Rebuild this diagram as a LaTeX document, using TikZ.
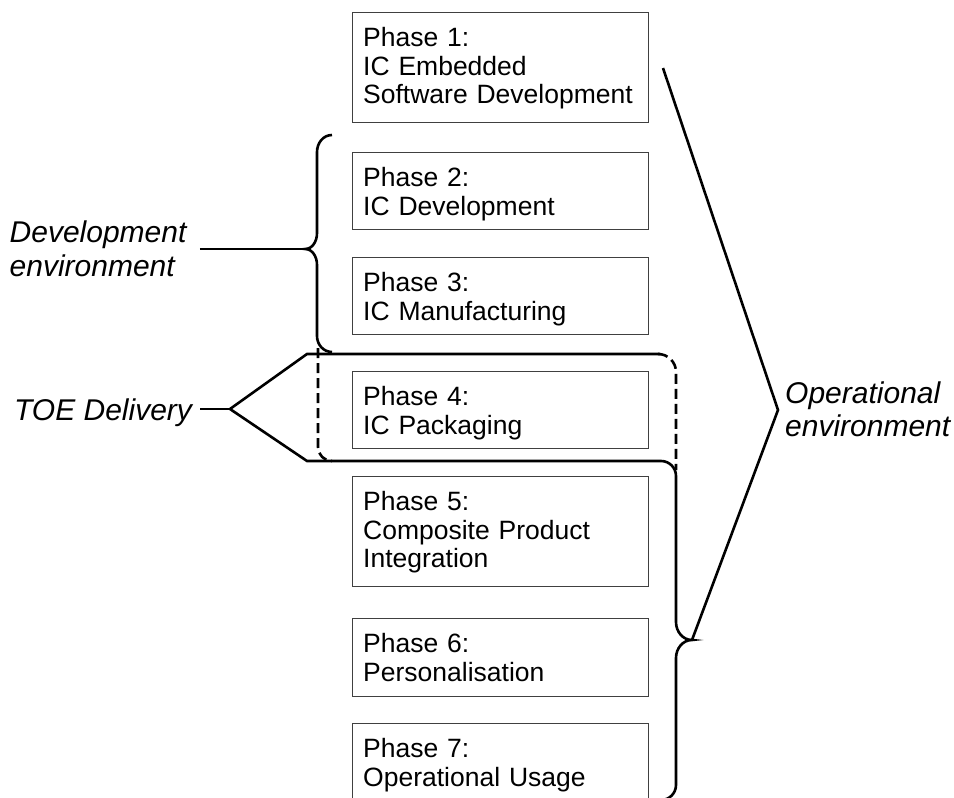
\documentclass[tikz,border=0pt]{standalone}
\usepackage{fontspec}
\setmainfont{Liberation Sans}
\usetikzlibrary{arrows}
\definecolor{boxgray}{RGB}{64,64,64}
\tikzstyle{phasebox} = [draw=boxgray, line width=1.1pt, anchor=north west, minimum width=296pt, inner sep=0pt]
\tikzstyle{phtext} = [anchor=base west, inner sep=0pt, text width=280pt, align=left, font=\fontsize{26.5}{28.5}\selectfont]
\tikzstyle{envlabel} = [anchor=base west, inner xsep=6pt, inner ysep=0pt, align=left, font=\fontsize{30}{33.5}\selectfont\itshape]
\tikzstyle{brace} = [line width=2.6pt, black]
\tikzstyle{dashline} = [line width=2.6pt, black, dash pattern=on 10pt off 5pt]

\begin{document}
\begin{tikzpicture}[x=1pt, y=-1pt]
\useasboundingbox (0,0) rectangle (954,798);
\clip (0,0) rectangle (954,798);

% Phase boxes
\node[phasebox, minimum height=110pt] (ph1) at (352,12) {};
\node[phasebox, minimum height=77pt] (ph2) at (352,152) {};
\node[phasebox, minimum height=77pt] (ph3) at (352,257) {};
\node[phasebox, minimum height=77pt] (ph4) at (352,371) {};
\node[phasebox, minimum height=110pt] (ph5) at (352,476) {};
\node[phasebox, minimum height=78pt] (ph6) at (352,618) {};
\node[phasebox, minimum height=78pt] (ph7) at (352,723) {};

% Box texts
\node[phtext] (t1) at ([shift={(11,34.7)}]ph1.north west) {Phase 1:\\IC Embedded\\Software Development};
\node[phtext] (t2) at ([shift={(11,34.7)}]ph2.north west) {Phase 2:\\IC Development};
\node[phtext] (t3) at ([shift={(11,34.7)}]ph3.north west) {Phase 3:\\IC Manufacturing};
\node[phtext] (t4) at ([shift={(11,34.7)}]ph4.north west) {Phase 4:\\IC Packaging};
\node[phtext] (t5) at ([shift={(11,34.7)}]ph5.north west) {Phase 5:\\Composite Product\\Integration};
\node[phtext] (t6) at ([shift={(11,34.7)}]ph6.north west) {Phase 6:\\Personalisation};
\node[phtext] (t7) at ([shift={(11,34.7)}]ph7.north west) {Phase 7:\\Operational Usage};

% Environment labels
\node[envlabel, text width=184pt] (devlbl) at (3.5,242.7) {Development\\environment};
\node[envlabel] (toelbl) at (8,420.7) {TOE Delivery};
\node[envlabel, text width=170pt] (oplbl) at (779,403) {Operational\\environment};

% Bracket tips
\coordinate (devtip) at (305,249);
\coordinate (toetip) at (230,409);
\coordinate (optip) at (778,410);
\coordinate (lowtip) at (692,640);

% Development environment brace
\draw[brace] (332,135) to[out=180,in=90] (317,152) -- (317,233)
  to[out=-90,in=0] (devtip) to[out=0,in=90] (317,265) -- (317,336)
  to[out=-90,in=180] (332,352);
\draw[brace] (devlbl.east |- devtip) -- (devtip);

% TOE delivery bracket and lower brace
\draw[brace] ([xshift=2pt]toelbl.east |- toetip) -- (toetip);
\draw[brace] (660,354) -- (307,354) -- (toetip) -- (307,461) -- (661,461)
  to[out=0,in=90] (676,476) -- (676,622) to[out=-90,in=180] (lowtip)
  to[out=180,in=90] (676,658) -- (676,785) to[out=-90,in=0] (661,800);
\draw[dashline] (318,348) -- (318,447) to[out=-90,in=180] (332,461);
\draw[dashline] (658,354) to[out=0,in=90] (676,372) -- (676,470);

% Operational environment bracket
\draw[brace] (663,68) -- (optip) -- (lowtip);
\end{tikzpicture}
\end{document}
